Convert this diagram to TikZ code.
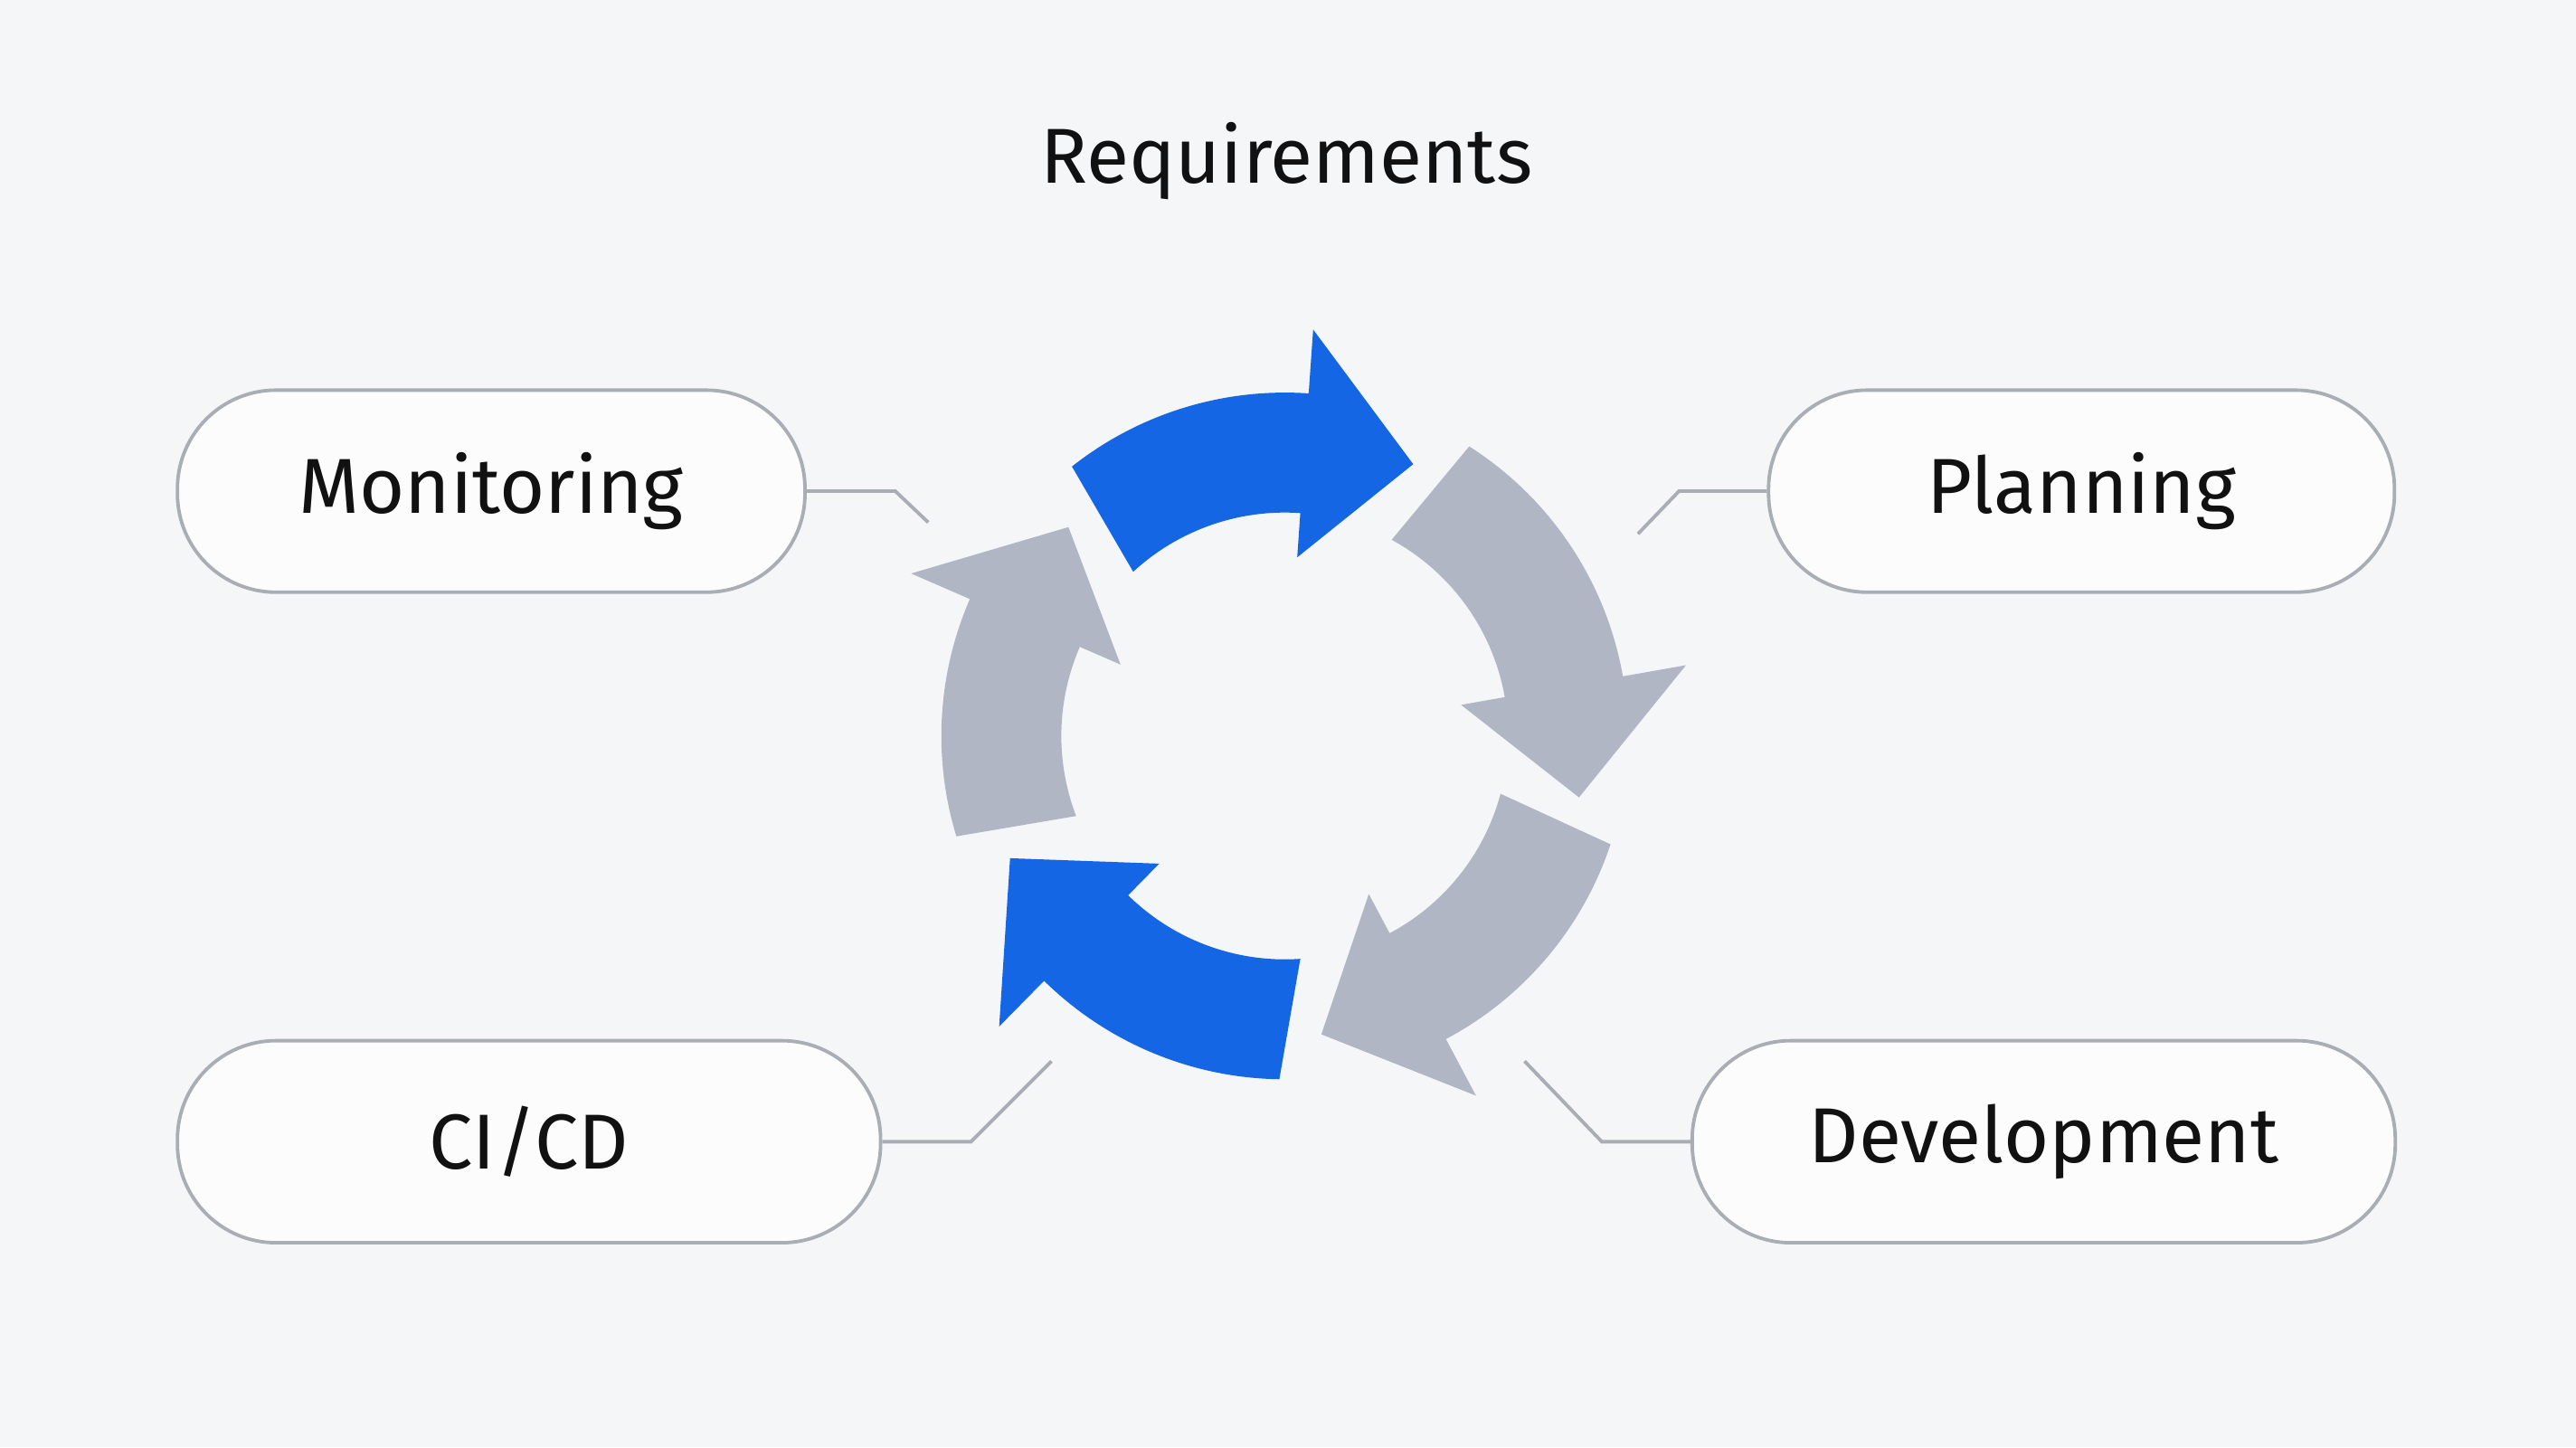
\documentclass[tikz,border=0pt]{standalone}
\usepackage{fontspec}
\setmainfont{Fira Sans}
\definecolor{bg}{HTML}{F5F6F8}
\definecolor{blu}{HTML}{1466E4}
\definecolor{gry}{HTML}{B0B6C4}
\definecolor{edge}{HTML}{A9ADB4}
\definecolor{txt}{HTML}{111111}
\begin{document}
\begin{tikzpicture}[x=0.02cm,y=-0.02cm,
  pill/.style={draw=edge,line width=1.2pt,fill=white!70!bg,rounded corners=60*0.02cm,minimum height=123*0.02cm,inner sep=0pt,font=\fontsize{27}{30}\selectfont,text=txt},
  conn/.style={draw=edge,line width=1.2pt}]
\fill[bg] (0,0) rectangle (1568,881);
\node[font=\fontsize{27}{30}\selectfont,text=txt] (req) at (783,98) {Requirements};
\node[pill,minimum width=382*0.02cm] (mon) at (299,299) {Monitoring};
\node[pill,minimum width=381*0.02cm] (pla) at (1267,299) {Planning};
\node[pill,minimum width=428*0.02cm] (cicd) at (322,695) {CI/CD};
\node[pill,minimum width=428*0.02cm] (dev) at (1244,695) {Development};
\coordinate (c) at (782,448);
\coordinate (m1) at (545,299); \coordinate (m2) at (565,318);
\coordinate (p1) at (1022,299); \coordinate (p2) at (997,325);
\coordinate (c1) at (591,695); \coordinate (c2) at (640,646);
\coordinate (d1) at (975,695); \coordinate (d2) at (928,646);
\draw[conn] (mon.east) -- (m1) -- (m2);
\draw[conn] (pla.west) -- (p1) -- (p2);
\draw[conn] (cicd.east) -- (c1) -- (c2);
\draw[conn] (dev.west) -- (d1) -- (d2);
% arrows: tail outer angle, tail inner angle, head base, tip, colour
\def\arr#1#2#3#4#5{\fill[#5,shift={(c)},yscale=-1]
  (#1:209) arc[start angle=#1,end angle=#3,radius=209] -- (#3:248) -- (#4:183) -- (#3:109) -- (#3:136)
  arc[start angle=#3,end angle=#2,radius=136] -- cycle;}
\arr{128.3}{132.7}{86}{64.7}{blu}
\arr{57.5}{61.4}{10}{-11.8}{gry}
\arr{-18.4}{-15}{-62}{-83}{gry}
\arr{-90.9}{-86}{-134.5}{-156}{blu}
\arr{197}{201}{156.5}{136}{gry}
\end{tikzpicture}
\end{document}
